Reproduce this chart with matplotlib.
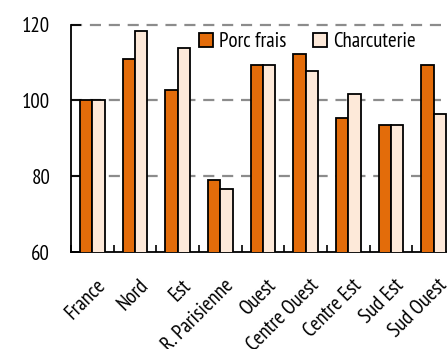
import matplotlib
matplotlib.use("Agg")
import matplotlib.pyplot as plt
import numpy as np

regions = ["France", "Nord", "Est", "R. Parisienne", "Ouest",
           "Centre Ouest", "Centre Est", "Sud Est", "Sud Ouest"]
porc_frais = [100, 111, 102.8, 79.1, 109.4, 112.2, 95.3, 93.4, 109.4]
charcuterie = [100, 118.2, 113.8, 76.5, 109.4, 107.8, 101.6, 93.4, 96.3]

plt.rcParams['font.family'] = ['PT Sans Narrow', 'Open Sans Condensed', 'DejaVu Sans']

fig = plt.figure(figsize=(4.47, 3.49), dpi=100)
ax = fig.add_axes([71/447, 1 - 252/349, 384/447, (252 - 24.5)/349])

x = np.arange(len(regions))
w = 0.29
ax.bar(x - w/2, porc_frais, w, color="#E36C0A", edgecolor="black", linewidth=1.3,
       label="Porc frais", zorder=3)
ax.bar(x + w/2, charcuterie, w, color="#FDE9D9", edgecolor="black", linewidth=1.3,
       label="Charcuterie", zorder=3)

ax.set_ylim(60, 120)
ax.set_xlim(-0.5, len(regions) - 0.5)
ax.set_yticks([60, 80, 100, 120])
for yv in [80, 100, 120]:
    ax.axhline(yv, color="#8c8c8c", lw=1.6, ls=(0, (5, 3.5)), zorder=1, clip_on=False)

ax.spines['top'].set_visible(False)
ax.spines['right'].set_visible(False)
ax.spines['left'].set_linewidth(1.3)
ax.spines['bottom'].set_linewidth(1.3)

ax.tick_params(axis='y', direction='in', length=7, width=1.3, labelsize=15, pad=15)
ax.set_xticks(x + 0.08)
ax.set_xticklabels(regions, rotation=45, ha='right', rotation_mode='anchor', fontsize=15)
ax.tick_params(axis='x', which='major', length=0, pad=17)
ax.set_xticks(np.arange(-0.5, len(regions), 1), minor=True)
ax.tick_params(axis='x', which='minor', direction='in', length=5, width=1.2)

fig.legend(loc='upper left', bbox_to_anchor=(199/447, 1 - 32/349), ncol=2, frameon=False,
           fontsize=15, handlelength=0.65, handleheight=0.65, handletextpad=0.3,
           columnspacing=1.3, borderpad=0, borderaxespad=0)

fig.savefig("out.png", dpi=100)
